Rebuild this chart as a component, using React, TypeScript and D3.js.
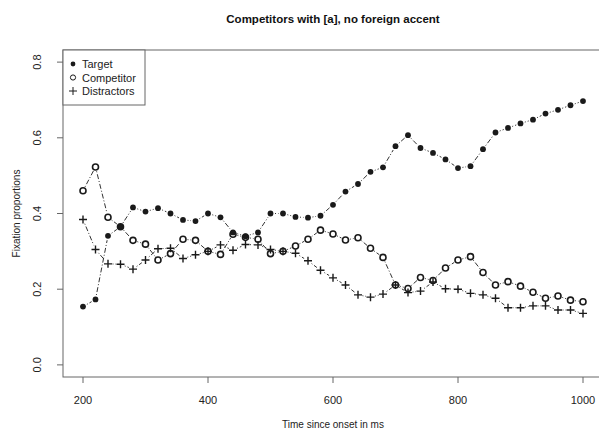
import React, { useRef, useEffect } from 'react'
import { select, scaleLinear } from 'd3'

const times = [200, 220, 240, 260, 280, 300, 320, 340, 360, 380, 400, 420, 440, 460, 480, 500, 520, 540, 560, 580, 600,
  620, 640, 660, 680, 700, 720, 740, 760, 780, 800, 820, 840, 860, 880, 900, 920, 940, 960, 980, 1000]

const target = [0.154, 0.173, 0.341, 0.365, 0.416, 0.405, 0.414, 0.400, 0.383, 0.380, 0.400, 0.390, 0.350, 0.340, 0.350,
  0.400, 0.400, 0.391, 0.389, 0.394, 0.423, 0.458, 0.478, 0.510, 0.522, 0.578, 0.607, 0.573, 0.560, 0.543, 0.520,
  0.525, 0.570, 0.614, 0.626, 0.638, 0.648, 0.664, 0.674, 0.686, 0.697]

const competitor = [0.460, 0.523, 0.390, 0.365, 0.329, 0.319, 0.277, 0.294, 0.332, 0.329, 0.300, 0.292, 0.345, 0.337,
  0.332, 0.294, 0.300, 0.314, 0.332, 0.356, 0.346, 0.330, 0.336, 0.308, 0.284, 0.211, 0.202, 0.231, 0.223, 0.256,
  0.277, 0.286, 0.244, 0.211, 0.220, 0.208, 0.192, 0.176, 0.182, 0.171, 0.167]

const distractors = [0.384, 0.305, 0.267, 0.266, 0.253, 0.277, 0.307, 0.308, 0.281, 0.291, 0.300, 0.317, 0.303, 0.318,
  0.317, 0.305, 0.300, 0.295, 0.275, 0.250, 0.230, 0.211, 0.185, 0.179, 0.187, 0.211, 0.191, 0.195, 0.219, 0.201,
  0.200, 0.189, 0.185, 0.176, 0.151, 0.151, 0.156, 0.156, 0.145, 0.145, 0.136]

const xTicks = [200, 400, 600, 800, 1000]
const yTicks = [0.0, 0.2, 0.4, 0.6, 0.8]
const seriesNames = ['Target', 'Competitor', 'Distractors']

const title = 'Competitors with [a], no foreign accent'
const xLabel = 'Time since onset in ms'
const yLabel = 'Fixation proportions'

function App() {
  const containerRef = useRef(null)
  const width = 599, height = 430
  const box = { left: 63, right: 603, top: 50, bottom: 377 }
  const font = '"Liberation Sans", Arial, sans-serif'

  useEffect(() => {
    const svg = select(containerRef.current)
    svg.selectAll('*').remove()

    // R style 4% padding around the data range
    const x = scaleLinear().domain([168, 1032]).range([box.left, box.right])
    const y = scaleLinear().domain([-0.032, 0.832]).range([box.bottom, box.top])

    const ink = '#1a1a1a'
    const gap = 4.5

    // lines between points, with gaps like type="b"
    const drawLines = (vals) => {
      for (let i = 0; i < vals.length - 1; i++) {
        const x1 = x(times[i]), y1 = y(vals[i])
        const x2 = x(times[i + 1]), y2 = y(vals[i + 1])
        const len = Math.hypot(x2 - x1, y2 - y1)
        if (len <= gap * 2) continue
        const ux = (x2 - x1) / len, uy = (y2 - y1) / len
        svg.append('line')
          .attr('x1', x1 + ux * gap)
          .attr('y1', y1 + uy * gap)
          .attr('x2', x2 - ux * gap)
          .attr('y2', y2 - uy * gap)
          .attr('stroke', '#333')
          .attr('stroke-width', 1)
          .attr('stroke-dasharray', '1 2 5 2')
      }
    }

    drawLines(target)
    drawLines(competitor)
    drawLines(distractors)

    const filled = (cx, cy, r) => svg.append('circle')
      .attr('cx', cx).attr('cy', cy).attr('r', r).attr('fill', ink)
    const open = (cx, cy, r, w) => svg.append('circle')
      .attr('cx', cx).attr('cy', cy).attr('r', r)
      .attr('fill', 'none').attr('stroke', ink).attr('stroke-width', w)
    const plus = (cx, cy, s, w) => svg.append('path')
      .attr('d', `M${cx - s},${cy}H${cx + s}M${cx},${cy - s}V${cy + s}`)
      .attr('stroke', ink).attr('stroke-width', w).attr('fill', 'none')

    target.forEach((v, i) => filled(x(times[i]), y(v), 2.9))
    competitor.forEach((v, i) => open(x(times[i]), y(v), 3, 1.6))
    distractors.forEach((v, i) => plus(x(times[i]), y(v), 4, 1.4))

    // plot box
    svg.append('rect')
      .attr('x', box.left).attr('y', box.top)
      .attr('width', box.right - box.left).attr('height', box.bottom - box.top)
      .attr('fill', 'none').attr('stroke', '#666').attr('stroke-width', 1)

    // x axis
    xTicks.forEach(t => {
      svg.append('line')
        .attr('x1', x(t)).attr('x2', x(t))
        .attr('y1', box.bottom).attr('y2', box.bottom + 6)
        .attr('stroke', '#666')
      svg.append('text')
        .attr('x', x(t)).attr('y', box.bottom + 27)
        .attr('text-anchor', 'middle')
        .style('font-family', font).style('font-size', '11px')
        .attr('fill', '#222')
        .text(t)
    })

    // y axis
    yTicks.forEach(t => {
      svg.append('line')
        .attr('x1', box.left - 6).attr('x2', box.left)
        .attr('y1', y(t)).attr('y2', y(t))
        .attr('stroke', '#666')
      svg.append('text')
        .attr('transform', `translate(${box.left - 22},${y(t)}) rotate(-90)`)
        .attr('text-anchor', 'middle')
        .style('font-family', font).style('font-size', '11px')
        .attr('fill', '#222')
        .text(t.toFixed(1))
    })

    svg.append('text')
      .attr('x', (box.left + box.right) / 2).attr('y', 23)
      .attr('text-anchor', 'middle')
      .style('font-family', font).style('font-size', '11.5px').style('font-weight', 'bold')
      .attr('fill', '#111')
      .text(title)

    svg.append('text')
      .attr('x', (box.left + box.right) / 2).attr('y', 428)
      .attr('text-anchor', 'middle')
      .style('font-family', font).style('font-size', '10px')
      .attr('fill', '#222')
      .text(xLabel)

    svg.append('text')
      .attr('transform', `translate(20,${(box.top + box.bottom) / 2}) rotate(-90)`)
      .attr('text-anchor', 'middle')
      .style('font-family', font).style('font-size', '10px')
      .attr('fill', '#222')
      .text(yLabel)

    // legend
    svg.append('rect')
      .attr('x', box.left).attr('y', box.top)
      .attr('width', 82).attr('height', 55)
      .attr('fill', 'white').attr('stroke', '#666')
    seriesNames.forEach((name, i) => {
      const ly = box.top + 14 + i * 13.5
      const lx = box.left + 10
      if (i === 0) filled(lx, ly, 2.4)
      else if (i === 1) open(lx, ly, 2.6, 1)
      else plus(lx, ly, 4, 1)
      svg.append('text')
        .attr('x', lx + 9).attr('y', ly + 4)
        .style('font-family', font).style('font-size', '11px')
        .attr('fill', '#222')
        .text(name)
    })
  }, [])

  return (
    <svg ref={containerRef} width={width} height={height}
      style={{ position: 'absolute', left: 0, top: 0, background: 'white' }}>
    </svg>
  )
}

export default App
